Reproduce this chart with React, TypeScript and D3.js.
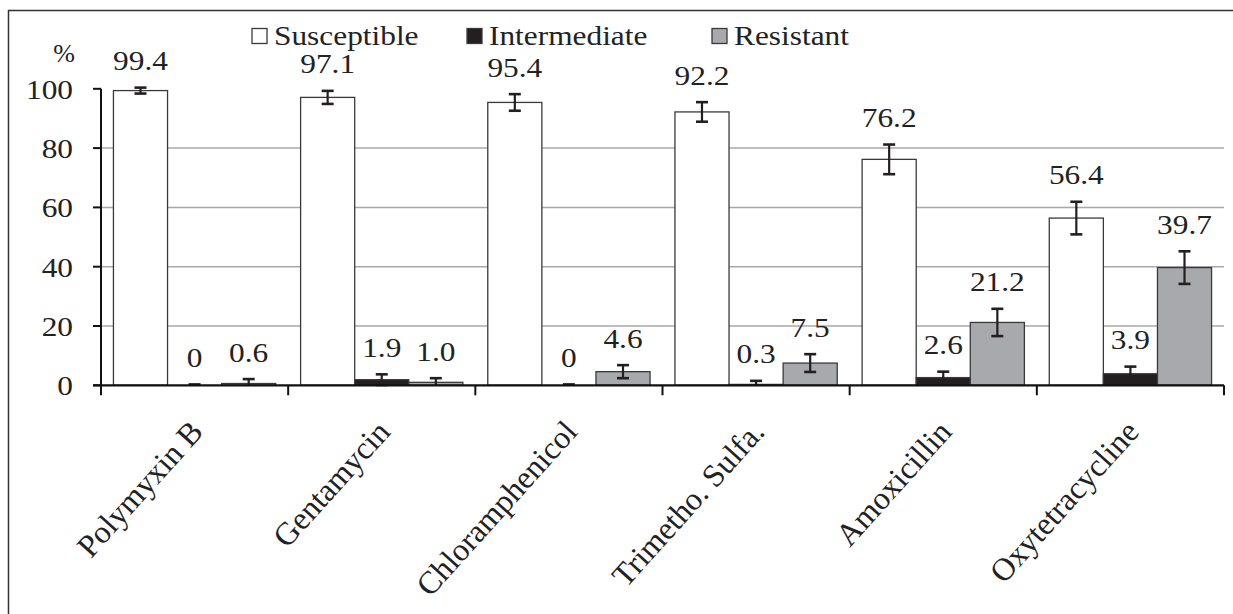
import React, { useEffect, useRef } from "react";
import * as d3 from "d3";

const categories = ["Polymyxin B", "Gentamycin", "Chloramphenicol", "Trimetho. Sulfa.", "Amoxicillin", "Oxytetracycline"];
const seriesNames = ["Susceptible", "Intermediate", "Resistant"];
const susceptible = [99.4, 97.1, 95.4, 92.2, 76.2, 56.4];
const intermediate = [0, 1.9, 0, 0.3, 2.6, 3.9];
const resistant = [0.6, 1.0, 4.6, 7.5, 21.2, 39.7];
const susceptibleErr = [1.0, 2.2, 2.8, 3.3, 5.0, 5.5];
const intermediateErr = [0.3, 1.8, 0.3, 1.2, 2.0, 2.4];
const resistantErr = [1.5, 1.4, 2.2, 3.0, 4.6, 5.5];
const labels = [
  ["99.4", "97.1", "95.4", "92.2", "76.2", "56.4"],
  ["0", "1.9", "0", "0.3", "2.6", "3.9"],
  ["0.6", "1.0", "4.6", "7.5", "21.2", "39.7"],
];
const yTicks = [0, 20, 40, 60, 80, 100];

const W = 1233;
const H = 614;
const FONT = "Liberation Serif, Tinos, Times New Roman, Times, serif";
const fills = ["#ffffff", "#231f20", "#a7a9ac"];

export default function App() {
  const ref = useRef<SVGSVGElement>(null);

  useEffect(() => {
    const svg = d3.select(ref.current);
    svg.selectAll("*").remove();

    const left = 101;
    const right = 1224;
    const x = d3.scaleBand<string>().domain(categories).range([left, right]).padding(0);
    const xs = d3.scaleBand<string>().domain(seriesNames).range([0, x.bandwidth()]).paddingInner(0).paddingOuter(0.23);
    const y = d3.scaleLinear().domain([0, 100]).range([385.3, 88.8]);

    const values = [susceptible, intermediate, resistant];
    const errs = [susceptibleErr, intermediateErr, resistantErr];

    // frame (only left + top edges fall inside the picture)
    svg.append("path").attr("d", `M8.5,${H} V10.5 H${W}`)
      .attr("fill", "none").attr("stroke", "#333").attr("stroke-width", 1.5);

    // gridlines
    svg.selectAll("line.grid").data(yTicks.filter((t) => t > 0 && t < 100)).enter().append("line")
      .attr("x1", left).attr("x2", right).attr("y1", (d) => y(d)).attr("y2", (d) => y(d))
      .attr("stroke", "#a8a8a8").attr("stroke-width", 1.5);

    // bars
    seriesNames.forEach((s, si) => {
      const g = svg.append("g");
      categories.forEach((c, ci) => {
        const v = values[si][ci];
        const bx = x(c)! + xs(s)!;
        const bw = xs.bandwidth();
        g.append("rect").attr("x", bx).attr("y", y(v)).attr("width", bw).attr("height", y(0) - y(v))
          .attr("fill", fills[si]).attr("stroke", "#3a3a3a").attr("stroke-width", 1.3);
      });
    });

    // error bars + labels
    seriesNames.forEach((s, si) => {
      categories.forEach((c, ci) => {
        const v = values[si][ci];
        const e = errs[si][ci];
        const cx = x(c)! + xs(s)! + xs.bandwidth() / 2;
        const top = y(v + e);
        const lo = Math.max(0, v - e);
        svg.append("line").attr("x1", cx).attr("x2", cx).attr("y1", top).attr("y2", y(lo))
          .attr("stroke", "#231f20").attr("stroke-width", 2.2);
        svg.append("line").attr("x1", cx - 6).attr("x2", cx + 6).attr("y1", top).attr("y2", top)
          .attr("stroke", "#231f20").attr("stroke-width", 2.6);
        if (v - e > 0) {
          svg.append("line").attr("x1", cx - 6).attr("x2", cx + 6).attr("y1", y(lo)).attr("y2", y(lo))
            .attr("stroke", "#231f20").attr("stroke-width", 2.6);
        }
        svg.append("text").attr("transform", `translate(${cx},${top - 17.5}) scale(1.12,1)`)
          .attr("text-anchor", "middle").style("font-family", FONT).attr("font-size", 28)
          .attr("fill", "#222").text(labels[si][ci]);
      });
    });

    // y axis
    svg.append("line").attr("x1", left).attr("x2", left).attr("y1", y(0)).attr("y2", y(100))
      .attr("stroke", "#111").attr("stroke-width", 2);
    yTicks.forEach((t) => {
      svg.append("line").attr("x1", left - 8).attr("x2", left).attr("y1", y(t)).attr("y2", y(t))
        .attr("stroke", "#111").attr("stroke-width", 2);
      svg.append("text").attr("transform", `translate(73,${y(t) + 10}) scale(1.12,1)`)
        .attr("text-anchor", "end").style("font-family", FONT).attr("font-size", 28)
        .attr("fill", "#222").text(t);
    });
    svg.append("text").attr("x", 64).attr("y", 62).attr("text-anchor", "middle")
      .style("font-family", FONT).attr("font-size", 26).attr("fill", "#222").text("%");

    // x axis
    svg.append("line").attr("x1", left - 8).attr("x2", right).attr("y1", y(0)).attr("y2", y(0))
      .attr("stroke", "#111").attr("stroke-width", 2.2);
    const bounds = categories.map((c) => x(c)!).concat([right]);
    bounds.forEach((b) => {
      svg.append("line").attr("x1", b).attr("x2", b).attr("y1", y(0)).attr("y2", y(0) + 10)
        .attr("stroke", "#111").attr("stroke-width", 2);
    });
    categories.forEach((c) => {
      const cx = x(c)! + x.bandwidth() / 2;
      svg.append("text").attr("transform", `translate(${cx + 10},433) rotate(-48)`)
        .attr("text-anchor", "end").style("font-family", FONT).attr("font-size", 32)
        .attr("fill", "#222").text(c);
    });

    // legend
    const legendX = [252, 467, 712];
    seriesNames.forEach((s, si) => {
      svg.append("rect").attr("x", legendX[si]).attr("y", 28.5).attr("width", 15).attr("height", 15)
        .attr("fill", fills[si]).attr("stroke", "#3a3a3a").attr("stroke-width", 1.3);
      svg.append("text").attr("transform", `translate(${legendX[si] + 22},45) scale(1.12,1)`)
        .style("font-family", FONT).attr("font-size", 28).attr("fill", "#222").text(s);
    });
  }, []);

  return (
    <svg ref={ref} width={W} height={H} style={{ position: "absolute", left: 0, top: 0, background: "#fff" }} />
  );
}
